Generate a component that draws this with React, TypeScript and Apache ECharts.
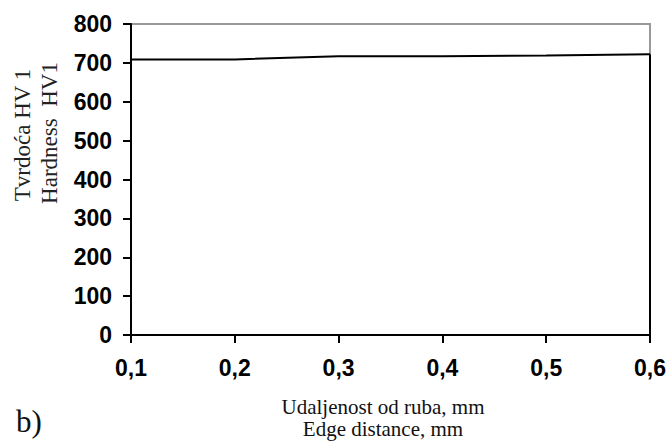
import React, { useEffect, useRef } from "react";
import * as echarts from "echarts";

const categories = ["0,1", "0,2", "0,3", "0,4", "0,5", "0,6"];
const hardness = [709, 709, 717, 717, 719, 722];
const yMin = 0;
const yMax = 800;
const yStep = 100;

export default function App() {
  const ref = useRef<HTMLDivElement>(null);
  useEffect(() => {
    if (!ref.current) return;
    const chart = echarts.init(ref.current, undefined, { renderer: "svg" });
    const lastIdx = categories.length - 1;
    const serif = "Liberation Serif";
    chart.setOption({
      animation: false,
      backgroundColor: "#ffffff",
      grid: {
        left: 131,
        right: 20,
        top: 24,
        bottom: 106,
        show: true,
        borderColor: "#999999",
        borderWidth: 2,
        backgroundColor: "transparent",
      },
      xAxis: {
        type: "category",
        data: categories,
        boundaryGap: false,
        axisLine: { show: true, lineStyle: { color: "#000", width: 2 } },
        axisTick: { show: true, length: 8, inside: false, lineStyle: { color: "#000", width: 2 } },
        axisLabel: {
          color: "#000",
          fontFamily: "Liberation Sans",
          fontWeight: "bold",
          fontSize: 23,
          margin: 21,
        },
        splitLine: { show: false },
      },
      yAxis: {
        type: "value",
        min: yMin,
        max: yMax,
        interval: yStep,
        axisLine: { show: true, lineStyle: { color: "#000", width: 2 } },
        axisTick: { show: true, length: 8, lineStyle: { color: "#000", width: 2 } },
        axisLabel: {
          color: "#000",
          fontFamily: "Liberation Sans",
          fontWeight: "bold",
          fontSize: 23,
          margin: 19,
        },
        splitLine: { show: false },
      },
      series: [
        {
          type: "line",
          data: hardness,
          symbol: "none",
          lineStyle: { color: "#000", width: 2 },
          clip: false,
        },
        {
          type: "line",
          data: [
            [categories[lastIdx], yMin],
            [categories[lastIdx], hardness[lastIdx]],
          ],
          symbol: "none",
          lineStyle: { color: "#000", width: 2 },
          clip: false,
        },
      ],
      graphic: [
        {
          type: "text",
          x: 22,
          y: 135,
          rotation: Math.PI / 2,
          style: {
            text: "Tvrdoća HV 1",
            fill: "#222",
            fontFamily: serif,
            fontSize: 23,
            textAlign: "center",
            textVerticalAlign: "middle",
          },
        },
        {
          type: "text",
          x: 49,
          y: 133,
          rotation: Math.PI / 2,
          style: {
            text: "Hardness  HV1",
            fill: "#222",
            fontFamily: serif,
            fontSize: 23,
            textAlign: "center",
            textVerticalAlign: "middle",
          },
        },
        {
          type: "text",
          x: 383,
          y: 407,
          style: {
            text: "Udaljenost od ruba, mm",
            fill: "#111",
            fontFamily: serif,
            fontSize: 21,
            textAlign: "center",
            textVerticalAlign: "middle",
          },
        },
        {
          type: "text",
          x: 383,
          y: 429,
          style: {
            text: "Edge distance, mm",
            fill: "#111",
            fontFamily: serif,
            fontSize: 21,
            textAlign: "center",
            textVerticalAlign: "middle",
          },
        },
        {
          type: "text",
          x: 16,
          y: 421,
          style: {
            text: "b)",
            fill: "#111",
            fontFamily: serif,
            fontSize: 31,
            textAlign: "left",
            textVerticalAlign: "middle",
          },
        },
      ],
    });
    return () => chart.dispose();
  }, []);
  return <div ref={ref} style={{ width: 670, height: 441, position: "fixed", left: 0, top: 0 }} />;
}
